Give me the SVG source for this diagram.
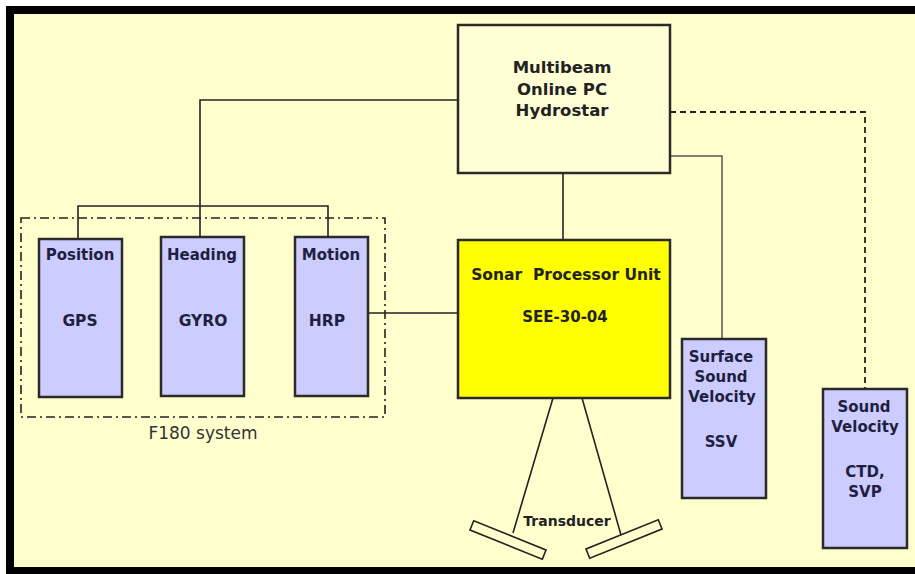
<svg xmlns="http://www.w3.org/2000/svg" width="915" height="574" viewBox="0 0 915 574">
<style>
.box{stroke:#2a2a2a;stroke-width:2.5}
.blue{fill:#CCCCFF}
.lbl{font-family:"DejaVu Sans",Verdana,sans-serif;font-weight:bold;fill:#1f1f3f;text-anchor:middle}
.blk{font-family:"DejaVu Sans",Verdana,sans-serif;font-weight:bold;fill:#222;text-anchor:middle}
.ln{fill:none;stroke:#222;stroke-width:1.6}
</style>
<rect x="0" y="0" width="915" height="574" fill="#ffffff"/>
<rect x="6" y="6" width="909" height="568" fill="#000000"/>
<rect x="14" y="14" width="901" height="553" fill="#FFFFCE"/>

<g id="connectors">
  <polyline class="ln" points="458,100 200,100 200,237"/>
  <polyline class="ln" points="78,240 78,206 328,206 328,238"/>
  <line class="ln" x1="368" y1="313" x2="458" y2="313"/>
  <line class="ln" x1="563" y1="173" x2="563" y2="240"/>
  <polyline fill="none" stroke="#555" stroke-width="1.5" points="670,156 722,156 722,339"/>
  <polyline fill="none" stroke="#222" stroke-width="1.8" stroke-dasharray="6,4" points="670,112 865,112 865,389"/>
  <line class="ln" x1="553" y1="398" x2="513" y2="533"/>
  <line class="ln" x1="582" y1="398" x2="621" y2="535"/>
</g>

<g id="f180">
  <rect x="21" y="218" width="364" height="199" fill="none" stroke="#222" stroke-width="1.6" stroke-dasharray="9,4,2,4"/>
  <text x="203" y="439" font-family="'DejaVu Sans',Verdana,sans-serif" font-size="17" fill="#333" text-anchor="middle">F180 system</text>
</g>

<g id="position">
  <rect class="box blue" x="39" y="239" width="83" height="158"/>
  <text class="lbl" x="80" y="260" font-size="15">Position</text>
  <text class="lbl" x="80" y="326" font-size="15.5">GPS</text>
</g>
<g id="heading">
  <rect class="box blue" x="161" y="237" width="83" height="159"/>
  <text class="lbl" x="202" y="260" font-size="15">Heading</text>
  <text class="lbl" x="203" y="326" font-size="15.5">GYRO</text>
</g>
<g id="motion">
  <rect class="box blue" x="295" y="237" width="73" height="159"/>
  <text class="lbl" x="331" y="260" font-size="15">Motion</text>
  <text class="lbl" x="327" y="326" font-size="15.5">HRP</text>
</g>

<g id="multibeam">
  <rect class="box" x="458" y="25" width="212" height="148" fill="#FFFFD6"/>
  <text class="blk" x="562" y="73" font-size="16.5">Multibeam</text>
  <text class="blk" x="562" y="95" font-size="16.5">Online PC</text>
  <text class="blk" x="562" y="116" font-size="16.5">Hydrostar</text>
</g>

<g id="sonar">
  <rect class="box" x="458" y="240" width="212" height="158" fill="#FFFF00"/>
  <text class="blk" x="566" y="280" font-size="15.5" xml:space="preserve">Sonar  Processor Unit</text>
  <text class="blk" x="565" y="322" font-size="15">SEE-30-04</text>
</g>

<g id="ssv">
  <rect class="box blue" x="682" y="339" width="84" height="159"/>
  <text class="lbl" x="721" y="362" font-size="15">Surface</text>
  <text class="lbl" x="721" y="382" font-size="15">Sound</text>
  <text class="lbl" x="722" y="402" font-size="15">Velocity</text>
  <text class="lbl" x="721" y="447" font-size="15">SSV</text>
</g>

<g id="svp">
  <rect class="box blue" x="823" y="389" width="84" height="159"/>
  <text class="lbl" x="864" y="412" font-size="15">Sound</text>
  <text class="lbl" x="865" y="432" font-size="15">Velocity</text>
  <text class="lbl" x="865" y="477" font-size="15">CTD,</text>
  <text class="lbl" x="865" y="497" font-size="15">SVP</text>
</g>

<g id="transducer">
  <rect x="-39" y="-5" width="78" height="10" fill="none" stroke="#222" stroke-width="1.6" transform="translate(508,540) rotate(22)"/>
  <rect x="-39" y="-5" width="78" height="10" fill="none" stroke="#222" stroke-width="1.6" transform="translate(624,539) rotate(-22)"/>
  <text class="blk" x="567" y="526" font-size="14">Transducer</text>
</g>
</svg>
